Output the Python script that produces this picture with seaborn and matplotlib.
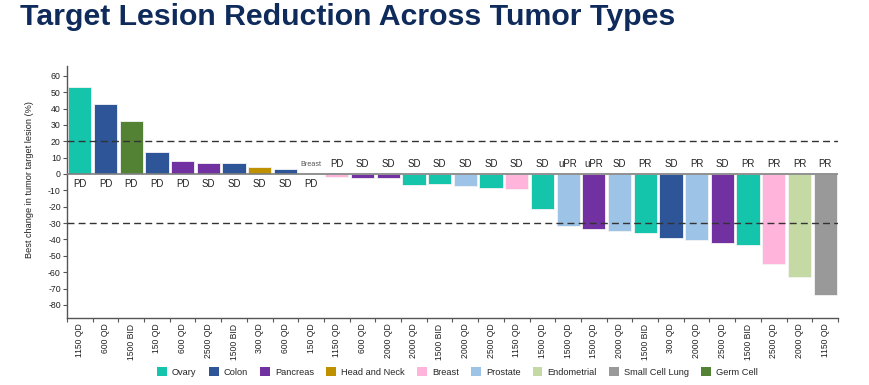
import matplotlib
matplotlib.use("Agg")
import matplotlib.pyplot as plt
from matplotlib.patches import Patch
from matplotlib.ticker import FixedLocator
import seaborn as sns
import pandas as pd
import numpy as np

# ---------------- data ----------------
doses = ["1150 QD", "600 QD", "1500 BID", "150 QD", "600 QD", "2500 QD", "1500 BID",
         "300 QD", "600 QD", "150 QD", "1150 QD", "600 QD", "2000 QD", "2000 QD",
         "1500 BID", "2000 QD", "2500 QD", "1150 QD", "1500 QD", "1500 QD", "1500 QD",
         "2000 QD", "1500 BID", "300 QD", "2000 QD", "2500 QD", "1500 BID", "2500 QD",
         "2000 QD", "1150 QD"]
tumors = ["Ovary", "Colon", "Germ Cell", "Colon", "Pancreas", "Pancreas", "Colon",
          "Head and Neck", "Colon", "Breast", "Breast", "Pancreas", "Pancreas", "Ovary",
          "Ovary", "Prostate", "Ovary", "Breast", "Ovary", "Prostate", "Pancreas",
          "Prostate", "Ovary", "Colon", "Prostate", "Pancreas", "Ovary", "Breast",
          "Endometrial", "Small Cell Lung"]
changes = [53.2, 42.9, 32.5, 13.4, 8.0, 6.5, 6.5, 4.0, 3.2, 0.0,
           -2.0, -2.7, -2.7, -6.8, -6.4, -7.3, -8.8, -9.4, -21.1, -31.8,
           -33.8, -35.0, -35.9, -39.2, -40.4, -42.2, -43.1, -55.0, -62.8, -73.9]
responses = ["PD", "PD", "PD", "PD", "PD", "SD", "SD", "SD", "SD", "PD",
             "PD", "SD", "SD", "SD", "SD", "SD", "SD", "SD", "SD", "uPR",
             "uPR", "SD", "PR", "SD", "PR", "SD", "PR", "PR", "PR", "PR"]
tumor_order = ["Ovary", "Colon", "Pancreas", "Head and Neck", "Breast", "Prostate",
               "Endometrial", "Small Cell Lung", "Germ Cell"]
tumor_colors = ["#14c5ab", "#2d5597", "#7131a0", "#bf9000", "#ffb4dc", "#9dc3e6",
                "#c5d9a5", "#999999", "#548235"]
thresholds = [20, -30]
yticks = list(range(-80, 61, 10))

palette = dict(zip(tumor_order, tumor_colors))
df = pd.DataFrame({"pid": [f"p{i:02d}" for i in range(len(doses))],
                   "dose": doses, "tumor": tumors, "change": changes,
                   "response": responses})

# ---------------- style ----------------
sns.set_style("white")
plt.rcParams["font.family"] = ["Liberation Sans", "DejaVu Sans"]
plt.rcParams["axes.unicode_minus"] = False

fig = plt.figure(figsize=(8.7, 3.85), dpi=100)
ax = fig.add_axes([67 / 870, 67 / 385, (838 - 67) / 870, (318 - 66) / 385])

sns.barplot(data=df, x="pid", y="change", hue="tumor", hue_order=tumor_order,
            palette=palette, order=list(df["pid"]), dodge=False, width=0.9,
            saturation=1, edgecolor="#f4f4f4", linewidth=0.6, legend=False, ax=ax)

n = len(df)
ax.set_xlim(-0.5, n - 0.5)
ax.set_ylim(-88, 66)

# reference lines
ax.axhline(0, color="#7f7f7f", lw=1.2, zorder=3)
for t in thresholds:
    ax.axhline(t, color="#333333", lw=1.0, ls=(0, (5, 3)), zorder=4)

# response labels
for i, (v, r, tt) in enumerate(zip(changes, responses, tumors)):
    if v > 0:
        ax.text(i, -6, r, ha="center", va="center", fontsize=7, color="#222222")
    elif v < 0:
        ax.text(i, 6, r, ha="center", va="center", fontsize=7, color="#222222")
    else:
        ax.text(i, 6, tt, ha="center", va="center", fontsize=5.2, color="#555555")
        ax.text(i, -6, r, ha="center", va="center", fontsize=7, color="#222222")

# axes styling
for s in ["top", "right"]:
    ax.spines[s].set_visible(False)
for s in ["left", "bottom"]:
    ax.spines[s].set_color("#555555")
    ax.spines[s].set_linewidth(1.0)

ax.set_yticks(yticks)
ax.set_yticklabels([str(v) for v in yticks], fontsize=6.3, color="#222222")
ax.tick_params(axis="y", which="major", direction="out", length=3, width=0.8,
               color="#555555", pad=1.5, left=True)

ax.set_xticks(range(n))
ax.set_xticklabels(doses, rotation=90, fontsize=6.2, color="#222222")
ax.tick_params(axis="x", which="major", length=0, pad=4)
ax.xaxis.set_minor_locator(FixedLocator(np.arange(-0.5, n, 1.0)))
ax.tick_params(axis="x", which="minor", direction="out", length=3, width=0.8,
               color="#555555", bottom=True)
ax.set_xlabel("")
ax.set_ylabel("Best change in tumor target lesion (%)", fontsize=6.6,
              color="#222222")
ax.yaxis.set_label_coords(-0.043, 0.548)

# title
fig.text(20 / 870, 1 - 25 / 385, "Target Lesion Reduction Across Tumor Types",
         fontsize=21.8, fontweight="bold", color="#0f2b5b", ha="left", va="baseline")

# legend
handles = [Patch(facecolor=c, edgecolor="none", label=t)
           for t, c in zip(tumor_order, tumor_colors)]
fig.legend(handles=handles, loc="center", bbox_to_anchor=(457.5 / 870, 13 / 385),
           ncol=len(handles), frameon=False, fontsize=6.7, handlelength=1.07,
           handleheight=1.07, handletextpad=0.54, columnspacing=1.3)

fig.savefig("out.png", dpi=100)
